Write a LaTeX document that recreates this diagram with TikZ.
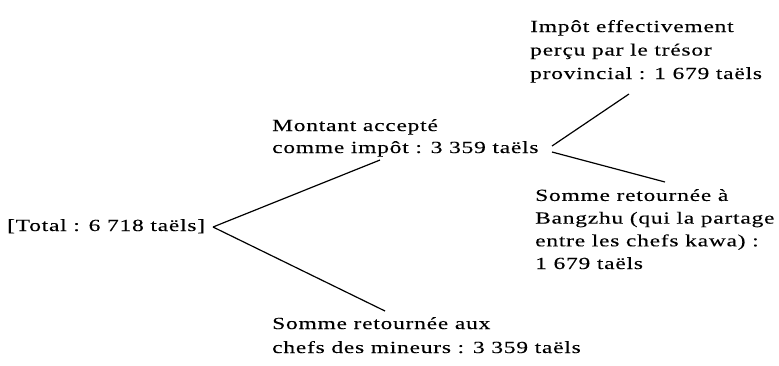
\documentclass[tikz,border=0pt]{standalone}
\usepackage{fontspec}
\setmainfont{Liberation Serif}[FakeStretch=1.38,LetterSpace=4.5,FakeBold=0.15]
\begin{document}
\begin{tikzpicture}[x=1pt,y=-1pt,
  lbl/.style={anchor=base west,inner sep=0pt,align=left,
    font=\fontsize{17}{#1}\selectfont},
  lbl/.default=23,
  link/.style={line width=1.2pt}]
\useasboundingbox (0,0) rectangle (779,365);
\node[lbl] (total) at (7,231) {[Total : 6 718 taëls]};
\node[lbl=22] (montant) at (272,153) {Montant accepté\\comme impôt : 3 359 taëls};
\node[lbl=23.5] (impot) at (530,79) {Impôt effectivement\\perçu par le trésor\\provincial : 1 679 taëls};
\node[lbl=22.7] (bangzhu) at (535,269) {Somme retournée à\\Bangzhu (qui la partage\\entre les chefs kawa) :\\1 679 taëls};
\node[lbl=24] (mineurs) at (272,353) {Somme retournée aux\\chefs des mineurs : 3 359 taëls};
\coordinate (t1) at (213,227);
\coordinate (a1) at (380,160);
\coordinate (b1) at (385,311);
\coordinate (t2u) at (552,146);
\coordinate (t2l) at (552,152);
\coordinate (a2) at (629,94);
\coordinate (b2) at (665,182);
\draw[link] (t1) -- (a1);
\draw[link] (t1) -- (b1);
\draw[link] (t2u) -- (a2);
\draw[link] (t2l) -- (b2);
\end{tikzpicture}
\end{document}
